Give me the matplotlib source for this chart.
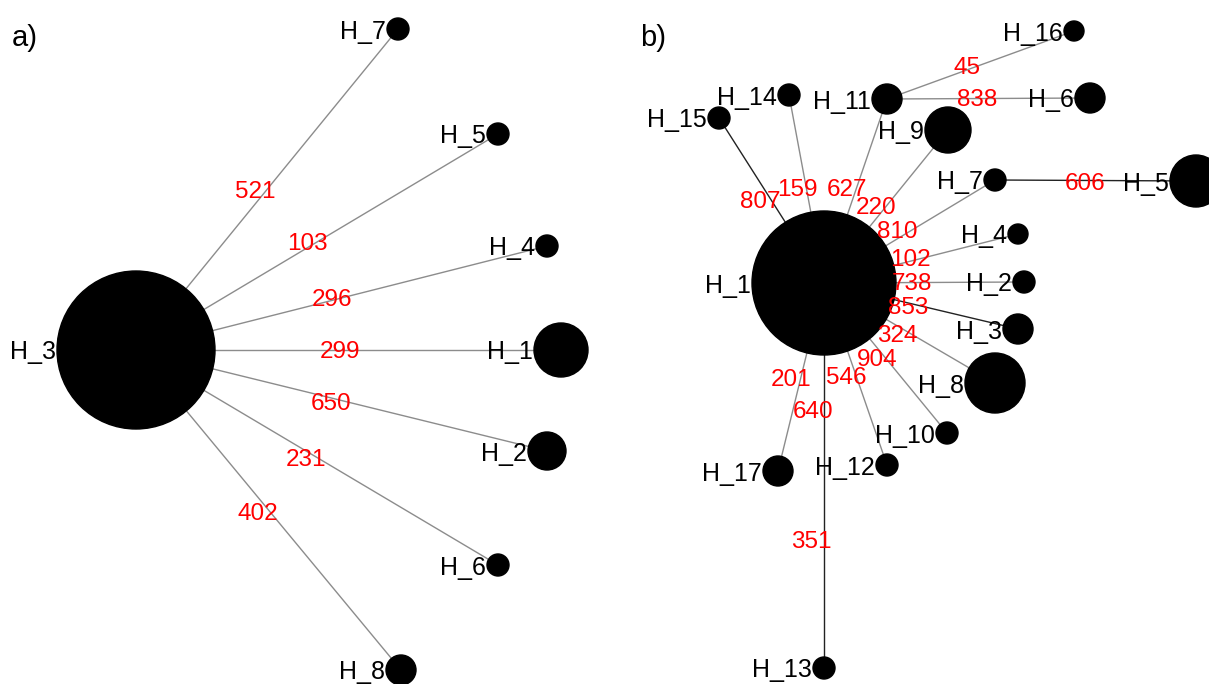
import matplotlib.pyplot as plt
from matplotlib.patches import Circle

plt.rcParams['font.family'] = ['Liberation Sans', 'DejaVu Sans']

# panel a: haplotype network, star around H_3
a_nodes = ['H_3', 'H_7', 'H_5', 'H_4', 'H_1', 'H_2', 'H_6', 'H_8']
a_xy = {'H_3': (136, 350), 'H_7': (398, 29), 'H_5': (498, 134), 'H_4': (547, 246),
        'H_1': (561, 350), 'H_2': (547, 451), 'H_6': (498, 565), 'H_8': (401, 670)}
a_size = {'H_3': 79, 'H_7': 11, 'H_5': 11, 'H_4': 11, 'H_1': 27, 'H_2': 19,
          'H_6': 11, 'H_8': 15}
a_edges = [('H_3', 'H_7'), ('H_3', 'H_5'), ('H_3', 'H_4'), ('H_3', 'H_1'),
           ('H_3', 'H_2'), ('H_3', 'H_6'), ('H_3', 'H_8')]
a_weights = [521, 103, 296, 299, 650, 231, 402]
a_label_xy = [(255, 190), (307, 242), (332, 297), (340, 350), (331, 402),
              (306, 458), (258, 512)]

# panel b: network around H_1
b_nodes = ['H_1', 'H_16', 'H_11', 'H_6', 'H_14', 'H_15', 'H_9', 'H_7', 'H_5', 'H_4',
           'H_2', 'H_3', 'H_8', 'H_10', 'H_12', 'H_17', 'H_13']
b_xy = {'H_1': (824, 283), 'H_16': (1074, 31), 'H_11': (887, 99), 'H_6': (1090, 98),
        'H_14': (789, 95), 'H_15': (719, 118), 'H_9': (948, 130), 'H_7': (995, 180),
        'H_5': (1196, 181), 'H_4': (1018, 234), 'H_2': (1024, 282), 'H_3': (1018, 329),
        'H_8': (995, 383), 'H_10': (947, 433), 'H_12': (887, 465), 'H_17': (778, 471),
        'H_13': (824, 668)}
b_size = {'H_1': 72, 'H_16': 10, 'H_11': 15, 'H_6': 15, 'H_14': 11, 'H_15': 11,
          'H_9': 23, 'H_7': 11, 'H_5': 26, 'H_4': 10, 'H_2': 11, 'H_3': 15,
          'H_8': 30, 'H_10': 11, 'H_12': 11, 'H_17': 15, 'H_13': 11}
b_edges = [('H_11', 'H_16'), ('H_11', 'H_6'), ('H_7', 'H_5'), ('H_1', 'H_15'),
           ('H_1', 'H_14'), ('H_1', 'H_11'), ('H_1', 'H_9'), ('H_1', 'H_7'),
           ('H_1', 'H_4'), ('H_1', 'H_2'), ('H_1', 'H_3'), ('H_1', 'H_8'),
           ('H_1', 'H_10'), ('H_1', 'H_12'), ('H_1', 'H_17'), ('H_1', 'H_13')]
b_dark = [('H_7', 'H_5'), ('H_1', 'H_15'), ('H_1', 'H_3'), ('H_1', 'H_13')]
b_weights = [45, 838, 606, 807, 159, 627, 220, 810, 102, 738, 853, 324, 904, 546,
             201, 640, 351]
b_label_xy = [(967, 65), (977, 98), (1085, 181), (760, 200), (797, 188), (847, 188),
              (876, 206), (897, 230), (910, 257), (912, 282), (908, 306), (897, 333),
              (877, 358), (846, 375), (791, 377), (813, 410), (811, 540)]

fig = plt.figure(figsize=(12.09, 6.84), dpi=100)
ax = fig.add_axes([0, 0, 1, 1])
ax.set_xlim(0, 1209)
ax.set_ylim(684, 0)
ax.set_aspect('equal')
ax.axis('off')


def draw_net(nodes, xy, size, edges, dark, weights, label_xy):
    for u, v in edges:
        col = '#222222' if (u, v) in dark else '#8c8c8c'
        ax.plot([xy[u][0], xy[v][0]], [xy[u][1], xy[v][1]], color=col, lw=1, zorder=1)
    for n in nodes:
        x, y = xy[n]
        ax.add_patch(Circle((x, y), size[n], color='black', zorder=2))
        ax.text(x - size[n] - 1, y, n, ha='right', va='center_baseline',
                fontsize=18, color='black', zorder=4)
    for w, (x, y) in zip(weights, label_xy):
        ax.text(x, y, str(w), ha='center', va='center_baseline', fontsize=17.5,
                color='red', zorder=3)


draw_net(a_nodes, a_xy, a_size, a_edges, [], a_weights, a_label_xy)
draw_net(b_nodes, b_xy, b_size, b_edges, b_dark, b_weights, b_label_xy)

ax.text(12, 35, 'a)', fontsize=21, ha='left', va='center_baseline')
ax.text(640, 35, 'b)', fontsize=21, ha='left', va='center_baseline')

fig.savefig('out.png', dpi=100)
